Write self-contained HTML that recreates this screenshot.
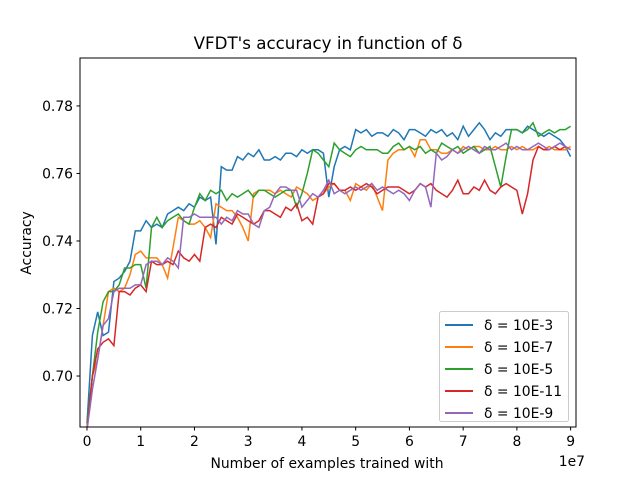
<!DOCTYPE html>
<html><head><meta charset="utf-8"><style>
body{margin:0;background:#fff}
svg text{font-family:"DejaVu Sans","Liberation Sans",sans-serif;fill:#000}
</style></head><body>
<svg width="640" height="480">
<g id="plot"></g>
</svg>
<script>
const xStep = 0.1; // step between samples, in 1e7
const yTicks = [0.70,0.72,0.74,0.76,0.78];
const xTicks = [0,1,2,3,4,5,6,7,8,9];
const seriesNames = ["δ =  10E-3","δ =  10E-7","δ =  10E-5","δ =  10E-11","δ =  10E-9"];
const seriesColors = ["#1f77b4","#ff7f0e","#2ca02c","#d62728","#9467bd"];
const blue = [0.686,0.712,0.719,0.712,0.713,0.728,0.729,0.731,0.734,0.743,0.743,0.746,0.744,0.745,0.744,0.748,0.749,0.750,0.749,0.751,0.750,0.753,0.752,0.753,0.739,0.762,0.761,0.761,0.765,0.764,0.766,0.765,0.767,0.764,0.764,0.765,0.764,0.766,0.766,0.765,0.767,0.766,0.767,0.767,0.766,0.753,0.762,0.767,0.768,0.767,0.773,0.772,0.773,0.771,0.772,0.772,0.771,0.773,0.772,0.770,0.773,0.773,0.772,0.771,0.773,0.772,0.773,0.771,0.772,0.770,0.774,0.771,0.773,0.775,0.773,0.770,0.772,0.771,0.773,0.773,0.773,0.772,0.774,0.773,0.772,0.771,0.772,0.771,0.770,0.768,0.765];
const orange = [0.685,0.700,0.705,0.715,0.725,0.726,0.725,0.726,0.730,0.736,0.737,0.735,0.735,0.735,0.733,0.729,0.738,0.747,0.746,0.745,0.745,0.746,0.744,0.741,0.751,0.750,0.749,0.749,0.747,0.744,0.740,0.754,0.755,0.755,0.755,0.754,0.755,0.754,0.753,0.756,0.755,0.754,0.752,0.753,0.754,0.756,0.757,0.755,0.755,0.752,0.757,0.756,0.755,0.757,0.753,0.749,0.764,0.766,0.767,0.767,0.768,0.765,0.770,0.770,0.767,0.767,0.766,0.766,0.767,0.766,0.768,0.767,0.768,0.768,0.767,0.767,0.768,0.767,0.767,0.768,0.767,0.768,0.767,0.767,0.768,0.767,0.768,0.767,0.767,0.767,0.768];
const green = [0.686,0.700,0.713,0.722,0.725,0.725,0.727,0.732,0.732,0.733,0.733,0.726,0.744,0.747,0.744,0.746,0.747,0.748,0.746,0.745,0.750,0.754,0.752,0.755,0.754,0.755,0.752,0.754,0.753,0.754,0.755,0.753,0.755,0.755,0.754,0.753,0.754,0.755,0.755,0.750,0.754,0.760,0.767,0.766,0.764,0.762,0.769,0.767,0.766,0.765,0.767,0.768,0.767,0.767,0.767,0.766,0.766,0.768,0.769,0.767,0.768,0.767,0.768,0.766,0.767,0.766,0.769,0.768,0.767,0.768,0.766,0.767,0.768,0.766,0.767,0.768,0.762,0.756,0.765,0.773,0.773,0.772,0.773,0.775,0.771,0.772,0.773,0.772,0.773,0.773,0.774];
const red = [0.684,0.700,0.708,0.710,0.711,0.709,0.725,0.725,0.724,0.726,0.727,0.725,0.734,0.733,0.733,0.734,0.733,0.737,0.735,0.734,0.736,0.734,0.744,0.745,0.744,0.747,0.746,0.745,0.748,0.747,0.746,0.745,0.746,0.749,0.749,0.748,0.747,0.750,0.749,0.751,0.746,0.747,0.745,0.753,0.754,0.757,0.757,0.755,0.755,0.756,0.755,0.756,0.757,0.756,0.754,0.755,0.756,0.756,0.756,0.755,0.754,0.755,0.757,0.756,0.757,0.755,0.754,0.753,0.755,0.758,0.754,0.754,0.756,0.755,0.758,0.755,0.754,0.756,0.757,0.756,0.755,0.748,0.754,0.764,0.768,0.767,0.767,0.768,0.767,0.768,0.767];
const purple = [0.684,0.696,0.705,0.715,0.717,0.725,0.726,0.726,0.726,0.727,0.727,0.733,0.734,0.734,0.733,0.735,0.734,0.732,0.747,0.747,0.748,0.747,0.747,0.747,0.747,0.745,0.747,0.746,0.749,0.748,0.748,0.745,0.744,0.749,0.750,0.754,0.756,0.756,0.755,0.755,0.750,0.752,0.754,0.753,0.755,0.758,0.754,0.755,0.754,0.755,0.756,0.755,0.756,0.757,0.755,0.756,0.755,0.754,0.755,0.754,0.752,0.755,0.757,0.756,0.750,0.766,0.764,0.765,0.767,0.766,0.767,0.768,0.767,0.766,0.768,0.767,0.767,0.768,0.769,0.767,0.768,0.767,0.767,0.768,0.769,0.768,0.767,0.768,0.769,0.768,0.767];
const allSeries = [blue, orange, green, red, purple];

const L=80,R=576,T=58,B=427;
const xMin=-0.13, xMax=9.1, yMin=0.6849, yMax=0.7942;
const sx=v=>L+(v-xMin)/(xMax-xMin)*(R-L);
const sy=v=>B-(v-yMin)/(yMax-yMin)*(B-T);
const NS="http://www.w3.org/2000/svg";
const g=document.getElementById('plot');
function mk(tag,attrs,parent){const e=document.createElementNS(NS,tag);for(const k in attrs)e.setAttribute(k,attrs[k]);(parent||g).appendChild(e);return e;}

const clip=mk('clipPath',{id:'c'});mk('rect',{x:L,y:T,width:R-L,height:B-T},clip);
allSeries.forEach((s,si)=>{
  const d=s.map((v,i)=>(i?'L':'M')+sx(i*xStep).toFixed(1)+','+sy(v).toFixed(1)).join('');
  const p=mk('path',{d:d,fill:'none',stroke:seriesColors[si],'stroke-width':1.5,'clip-path':'url(#c)'});
  
  
});
const frame=mk('rect',{x:L,y:T,width:R-L,height:B-T,fill:'none',stroke:'#000','stroke-width':1});


xTicks.forEach(t=>{
  const x=sx(t);
  mk('line',{x1:x,x2:x,y1:B,y2:B+3.5,stroke:'#000'});
  const tx=mk('text',{x:x,y:B+19,'text-anchor':'middle','font-size':13.9});
  tx.textContent=t;
  
  
});
yTicks.forEach(t=>{
  const y=sy(t);
  mk('line',{x1:L-3.5,x2:L,y1:y,y2:y,stroke:'#000'});
  const tx=mk('text',{x:L-7,y:y+5,'text-anchor':'end','font-size':13.9});
  tx.textContent=t.toFixed(2);
  
  
});
const lg=mk('g',{});


mk('rect',{x:439.5,y:311.5,width:129,height:110,rx:2,fill:'#fff','fill-opacity':0.8,stroke:'#ccc'},lg);
seriesNames.forEach((n,i)=>{
  const y=325+i*22;
  const ln=mk('line',{x1:445,x2:473,y1:y,y2:y,stroke:seriesColors[i],'stroke-width':2},lg);
  
  
  const tx=mk('text',{x:484,y:y+5,'font-size':13.9},lg);
  tx.textContent=n;
  
  
});
</script>
<svg width="640" height="480" style="position:absolute;left:0;top:0">
<text x="328" y="49" text-anchor="middle" font-size="16.7">VFDT's accuracy in function of δ</text>
<text x="327" y="468" text-anchor="middle" font-size="13.9">Number of examples trained with</text>
<text x="585" y="466" text-anchor="end" font-size="13.9">1e7</text>
<text transform="translate(31,243) rotate(-90)" text-anchor="middle" font-size="13.9">Accuracy</text>
</svg>
</body></html>
